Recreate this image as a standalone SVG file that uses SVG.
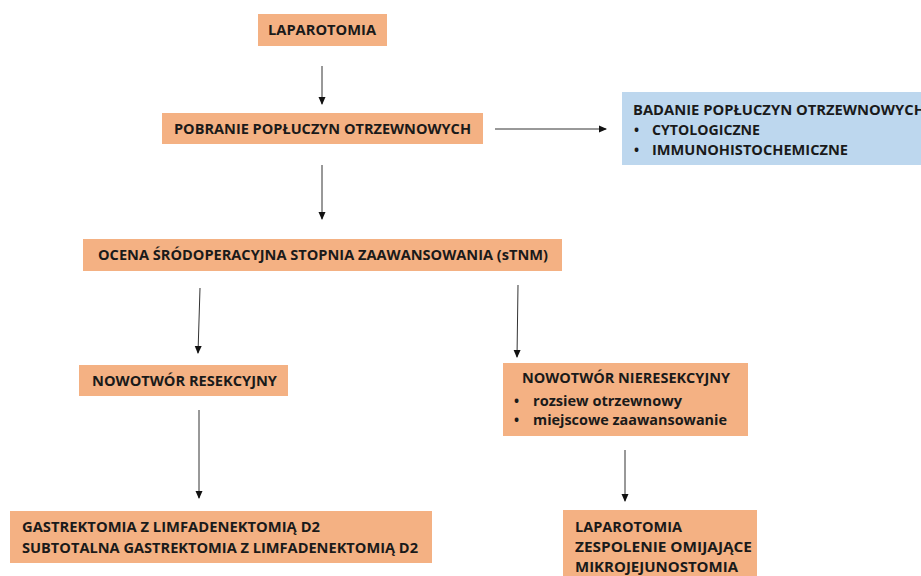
<svg xmlns="http://www.w3.org/2000/svg" width="921" height="576" viewBox="0 0 921 576">
<defs>
<marker id="ah" markerWidth="8" markerHeight="8" refX="7" refY="4" orient="auto" markerUnits="userSpaceOnUse">
<path d="M0,0.5 L8,4 L0,7.5 Z" fill="#111"/>
</marker>
<style>
.o{fill:#F4B183;}
.b{fill:#BDD7EE;}
text{font-family:"Open Sans","Liberation Sans",sans-serif;font-weight:bold;font-size:13.5px;fill:#1a1a1a;dominant-baseline:central;}
.c line{stroke:#333;stroke-width:1;marker-end:url(#ah);}
</style>
</defs>
<rect width="921" height="576" fill="#fff"/>
<g id="n1"><rect class="o" x="258" y="14" width="129" height="32"/>
<text x="268" y="30" textLength="108" lengthAdjust="spacingAndGlyphs">LAPAROTOMIA</text></g>
<g id="n2"><rect class="o" x="162" y="113" width="321" height="31"/>
<text x="174" y="129" textLength="297" lengthAdjust="spacingAndGlyphs">POBRANIE POPŁUCZYN OTRZEWNOWYCH</text></g>
<g id="n3"><rect class="b" x="622" y="92" width="299" height="73"/>
<text x="633" y="110" textLength="292" lengthAdjust="spacingAndGlyphs">BADANIE POPŁUCZYN OTRZEWNOWYCH</text>
<text x="634" y="130">•</text><text x="652" y="130" textLength="108" lengthAdjust="spacingAndGlyphs">CYTOLOGICZNE</text>
<text x="634" y="150">•</text><text x="652" y="150" textLength="196" lengthAdjust="spacingAndGlyphs">IMMUNOHISTOCHEMICZNE</text></g>
<g id="n4"><rect class="o" x="83" y="239" width="479" height="32"/>
<text x="98" y="255" textLength="450" lengthAdjust="spacingAndGlyphs">OCENA ŚRÓDOPERACYJNA STOPNIA ZAAWANSOWANIA (sTNM)</text></g>
<g id="n5"><rect class="o" x="79" y="365" width="209" height="31"/>
<text x="92" y="381" textLength="185" lengthAdjust="spacingAndGlyphs">NOWOTWÓR RESEKCYJNY</text></g>
<g id="n6"><rect class="o" x="503" y="363" width="245" height="73"/>
<text x="522" y="378" textLength="208" lengthAdjust="spacingAndGlyphs">NOWOTWÓR NIERESEKCYJNY</text>
<text x="514" y="401">•</text><text x="533" y="401" textLength="149" lengthAdjust="spacingAndGlyphs">rozsiew otrzewnowy</text>
<text x="514" y="420">•</text><text x="533" y="420" textLength="194" lengthAdjust="spacingAndGlyphs">miejscowe zaawansowanie</text></g>
<g id="n7"><rect class="o" x="10" y="511" width="422" height="52"/>
<text x="22" y="527" textLength="298" lengthAdjust="spacingAndGlyphs">GASTREKTOMIA Z LIMFADENEKTOMIĄ D2</text>
<text x="22" y="548" textLength="396" lengthAdjust="spacingAndGlyphs">SUBTOTALNA GASTREKTOMIA Z LIMFADENEKTOMIĄ D2</text></g>
<g id="n8"><rect class="o" x="563" y="510" width="194" height="66"/>
<text x="575" y="527" textLength="107" lengthAdjust="spacingAndGlyphs">LAPAROTOMIA</text>
<text x="575" y="547" textLength="177" lengthAdjust="spacingAndGlyphs">ZESPOLENIE OMIJAJĄCE</text>
<text x="575" y="567" textLength="163" lengthAdjust="spacingAndGlyphs">MIKROJEJUNOSTOMIA</text></g>
<g id="connectors" class="c">
<line x1="322" y1="66" x2="322" y2="104"/>
<line x1="495" y1="129" x2="606" y2="129"/>
<line x1="322" y1="165" x2="322" y2="219"/>
<line x1="200" y1="288" x2="198" y2="353"/>
<line x1="518" y1="285" x2="517" y2="357"/>
<line x1="199" y1="410" x2="199" y2="498"/>
<line x1="625" y1="450" x2="625" y2="501"/>
</g>
</svg>
